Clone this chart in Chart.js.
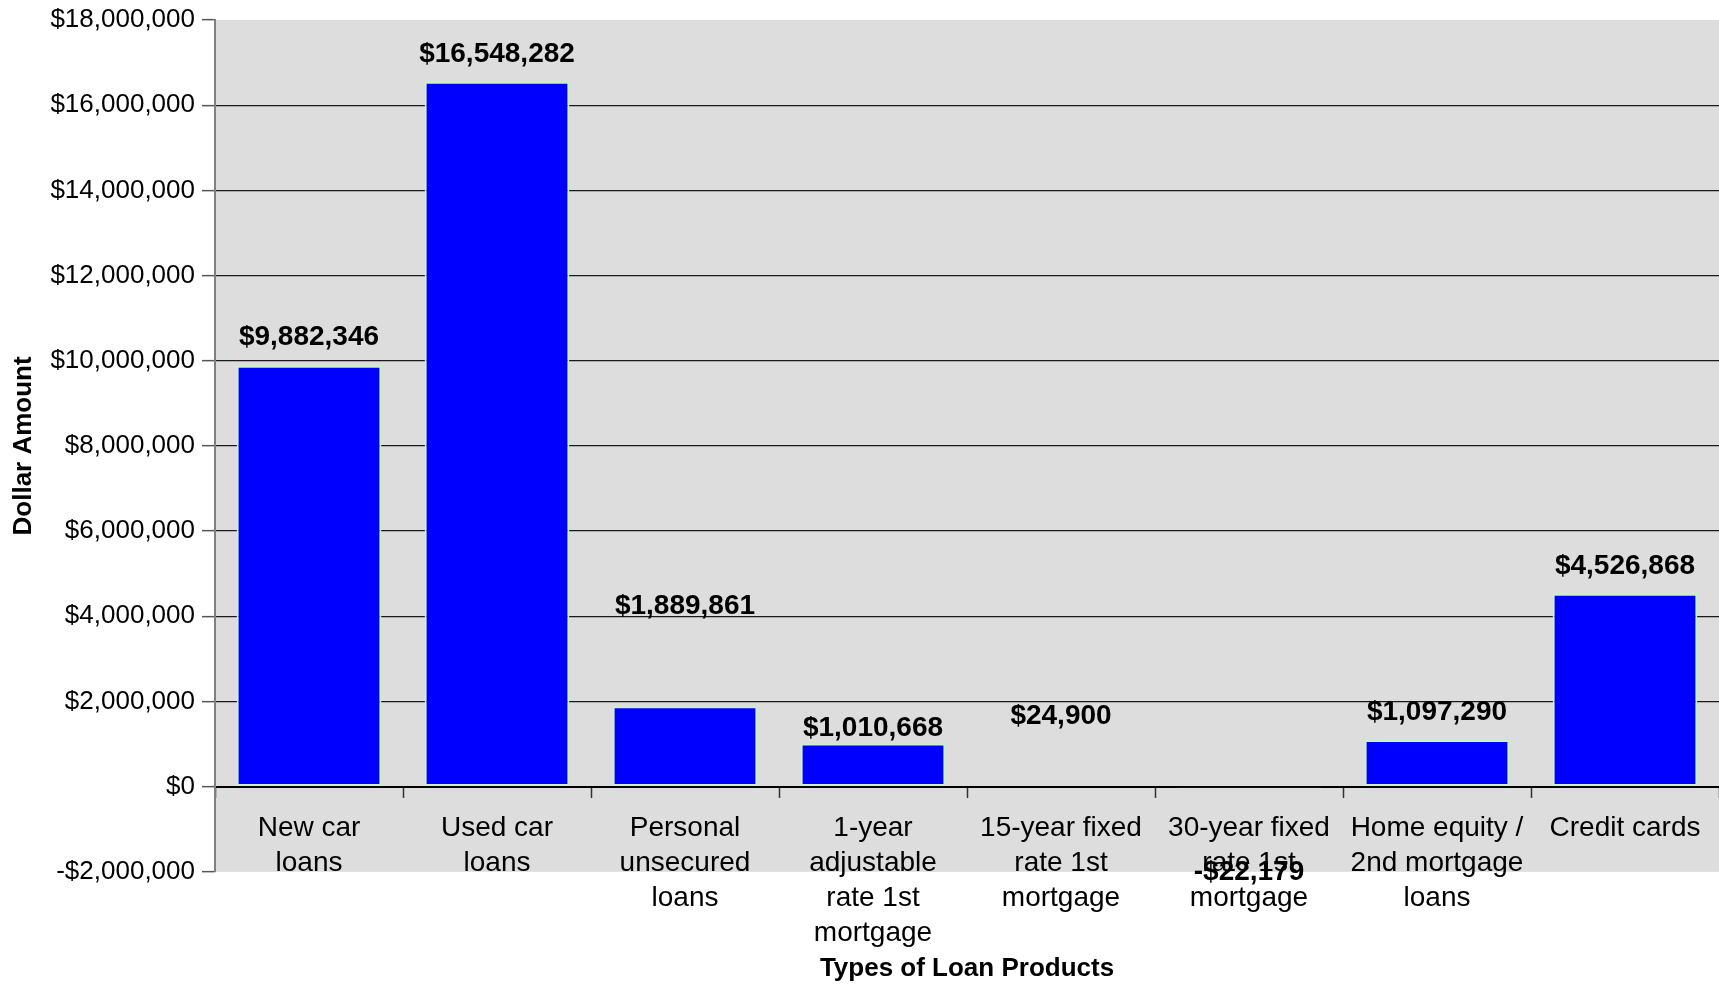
<!DOCTYPE html>
<html>
<head>
<meta charset="utf-8">
<title>Types of Loan Products</title>
<script src="https://cdn.jsdelivr.net/npm/chart.js@4/dist/chart.umd.min.js"></script>
<style>
  html, body { margin: 0; padding: 0; background: #ffffff; overflow: hidden; }
  #wrap { width: 1719px; height: 987px; }
</style>
</head>
<body>
<div id="wrap"><canvas id="loanChart" width="1719" height="987"></canvas></div>
<script>
// Loan product categories (wrapped onto several lines)
const categories = [
  ["New car", "loans"],
  ["Used car", "loans"],
  ["Personal", "unsecured", "loans"],
  ["1-year", "adjustable", "rate 1st", "mortgage"],
  ["15-year fixed", "rate 1st", "mortgage"],
  ["30-year fixed", "rate 1st", "mortgage"],
  ["Home equity /", "2nd mortgage", "loans"],
  ["Credit cards"]
];

// Dollar amount per loan product
const dollarAmounts = [9882346, 16548282, 1889861, 1010668, 24900, -22179, 1097290, 4526868];

// Value-axis tick values
const yTicks = [-2000000, 0, 2000000, 4000000, 6000000, 8000000, 10000000, 12000000, 14000000, 16000000, 18000000];

// Distance (px) from the end of each bar to the centre of its value label
const labelLift = [28, 28, 100, 15, 69, -85, 28, 28];

const FONT = '"Liberation Sans", Arial, Helvetica, sans-serif';
Chart.defaults.font.family = FONT;
Chart.defaults.color = '#000000';

function money(v) {
  return (v < 0 ? '-' : '') + '$' + Math.abs(v).toLocaleString('en-US');
}

// Grey plot-area fill
const plotBackground = {
  id: 'plotBackground',
  beforeDraw(chart) {
    const { ctx, chartArea: a } = chart;
    ctx.save();
    ctx.fillStyle = '#dddddd';
    ctx.fillRect(a.left, a.top, a.right - a.left, a.bottom - a.top);
    ctx.restore();
  }
};

// Bold dollar labels next to each bar
const valueLabels = {
  id: 'valueLabels',
  afterDatasetsDraw(chart) {
    const { ctx } = chart;
    const meta = chart.getDatasetMeta(0);
    ctx.save();
    ctx.font = 'bold 28px ' + FONT;
    ctx.fillStyle = '#000000';
    ctx.textAlign = 'center';
    ctx.textBaseline = 'middle';
    meta.data.forEach((bar, i) => {
      ctx.fillText(money(dollarAmounts[i]), bar.x, bar.y - labelLift[i]);
    });
    ctx.restore();
  }
};

new Chart(document.getElementById('loanChart'), {
  type: 'bar',
  data: {
    labels: categories,
    datasets: [{
      data: dollarAmounts,
      backgroundColor: '#0000ff',
      borderColor: '#c6f4c6',
      borderWidth: 2,
      borderSkipped: false,
      barPercentage: 0.77,
      categoryPercentage: 1.0
    }]
  },
  options: {
    responsive: false,
    animation: false,
    devicePixelRatio: 1,
    layout: { padding: { top: 19, right: 0, bottom: 0, left: 0 } },
    plugins: {
      legend: { display: false },
      tooltip: { enabled: false },
      title: {
        display: true,
        position: 'bottom',
        fullSize: false,
        text: 'Types of Loan Products',
        color: '#000000',
        font: { size: 26, weight: 'bold', lineHeight: 1.2 },
        padding: { top: 81, bottom: 3 }
      }
    },
    scales: {
      x: {
        type: 'category',
        position: { y: 0 },
        offset: true,
        grid: {
          display: true,
          offset: true,
          drawOnChartArea: false,
          drawTicks: true,
          tickLength: 10,
          tickColor: '#333333',
          tickWidth: 1.5
        },
        border: { display: true, color: '#000000', width: 2 },
        ticks: {
          autoSkip: false,
          maxRotation: 0,
          minRotation: 0,
          padding: 14,
          color: '#000000',
          font: { size: 28, lineHeight: 1.25 }
        }
      },
      y: {
        min: yTicks[0],
        max: yTicks[yTicks.length - 1],
        afterBuildTicks(scale) {
          scale.ticks = yTicks.map(v => ({ value: v }));
        },
        afterFit(scale) {
          scale.width = 215;
        },
        grid: {
          color: (c) => (c.tick && (c.tick.value === yTicks[0] || c.tick.value === yTicks[yTicks.length - 1])) ? 'rgba(0,0,0,0)' : '#1a1a1a',
          lineWidth: 1.3,
          drawTicks: true,
          tickLength: 13,
          tickColor: '#555555',
          tickWidth: 1.5
        },
        border: { display: true, color: '#808080', width: 2 },
        ticks: {
          padding: 7,
          color: '#000000',
          font: { size: 26, lineHeight: 1.0 },
          callback: (v) => money(v)
        },
        title: {
          display: true,
          text: 'Dollar Amount',
          color: '#000000',
          font: { size: 26, weight: 'bold', lineHeight: 1.2 },
          padding: { top: 8, bottom: 0 }
        }
      }
    }
  },
  plugins: [plotBackground, valueLabels]
});
</script>
</body>
</html>
